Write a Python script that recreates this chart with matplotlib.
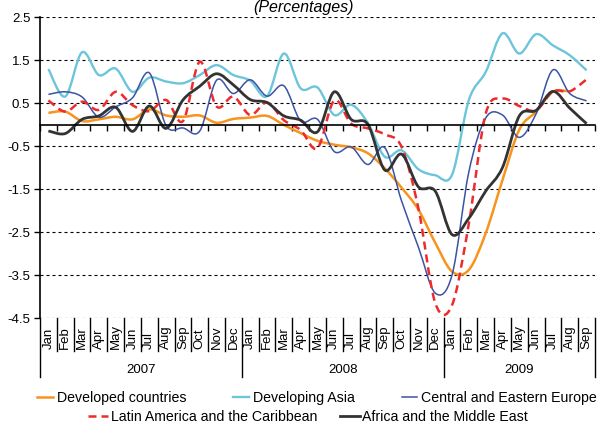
import matplotlib
matplotlib.use("Agg")
import matplotlib.pyplot as plt
from matplotlib.path import Path
from matplotlib.patches import PathPatch
from matplotlib.lines import Line2D

plt.rcParams["font.family"] = ["Liberation Sans", "DejaVu Sans"]
plt.rcParams["axes.unicode_minus"] = False

months = ["Jan", "Feb", "Mar", "Apr", "May", "Jun", "Jul", "Aug", "Sep", "Oct", "Nov", "Dec",
          "Jan", "Feb", "Mar", "Apr", "May", "Jun", "Jul", "Aug", "Sep", "Oct", "Nov", "Dec",
          "Jan", "Feb", "Mar", "Apr", "May", "Jun", "Jul", "Aug", "Sep"]
years = ["2007", "2008", "2009"]
year_start = [0, 12, 24, 33]

developed = [0.27, 0.30, 0.08, 0.12, 0.18, 0.12, 0.35, 0.21, 0.18, 0.21, 0.04, 0.13,
             0.16, 0.20, -0.01, -0.20, -0.38, -0.47, -0.53, -0.67, -1.02, -1.47, -1.98, -2.75,
             -3.42, -3.38, -2.53, -1.29, -0.12, 0.30, 0.76, 0.77]
asia = [1.29, 0.65, 1.68, 1.15, 1.30, 0.76, 1.09, 1.00, 0.96, 1.15, 1.38, 1.15,
        1.02, 0.66, 1.65, 0.84, 0.86, 0.22, 0.46, 0.03, -0.75, -0.60, -1.04, -1.18,
        -1.17, 0.57, 1.22, 2.12, 1.65, 2.10, 1.84, 1.61, 1.26]
europe = [0.70, 0.76, 0.64, 0.17, 0.41, 0.62, 1.20, -0.03, -0.08, -0.15, 1.03, 0.72,
          1.04, 0.66, 0.90, 0.08, 0.12, -0.63, -0.52, -0.93, -0.54, -1.78, -2.85, -3.92,
          -3.50, -1.10, 0.15, 0.22, -0.30, 0.25, 1.27, 0.72, 0.55]
latam = [0.56, 0.30, 0.53, 0.34, 0.76, 0.45, 0.31, 0.57, 0.08, 1.46, 0.42, 0.65,
         0.22, 0.51, 0.10, -0.13, -0.55, 0.56, 0.02, -0.09, -0.23, -0.52, -1.95, -4.15,
         -4.20, -2.30, 0.25, 0.60, 0.43, 0.33, 0.77, 0.77, 1.05]
africa = [-0.15, -0.21, 0.12, 0.20, 0.40, -0.16, 0.43, -0.09, 0.57, 0.89, 1.18, 0.92,
          0.58, 0.51, 0.20, 0.10, -0.17, 0.76, 0.12, 0.00, -1.06, -0.69, -1.45, -1.55,
          -2.56, -2.18, -1.55, -1.00, 0.20, 0.33, 0.77, 0.38, 0.02]

yticks = [2.5, 1.5, 0.5, -0.5, -1.5, -2.5, -3.5, -4.5]
ytick_labels = ["2.5", "1.5", "0.5", "-0.5", "-1.5", "-2.5", "-3.5", "-4.5"]

series = [
    ("Developed countries", developed, "#F7941D", 1.8, "-"),
    ("Developing Asia", asia, "#6CC5DA", 1.7, "-"),
    ("Central and Eastern Europe", europe, "#3A53A4", 1.1, "-"),
    ("Latin America and the Caribbean", latam, "#EE2A2F", 1.8, (0, (3.2, 2))),
    ("Africa and the Middle East", africa, "#333333", 2.0, "-"),
]


def smooth_path(values):
    # Excel-style smoothed line: cubic bezier through the monthly points
    xs = [i + 0.5 for i in range(len(values))]
    n = len(values)
    verts = [(xs[0], values[0])]
    codes = [Path.MOVETO]
    for i in range(n - 1):
        a = max(i - 1, 0)
        b = min(i + 2, n - 1)
        c1 = (xs[i] + (xs[i + 1] - xs[a]) / 6, values[i] + (values[i + 1] - values[a]) / 6)
        c2 = (xs[i + 1] - (xs[b] - xs[i]) / 6, values[i + 1] - (values[b] - values[i]) / 6)
        verts += [c1, c2, (xs[i + 1], values[i + 1])]
        codes += [Path.CURVE4] * 3
    return Path(verts, codes)


fig = plt.figure(figsize=(6, 4.23), dpi=100)
ax = fig.add_axes([40 / 600, 1 - 318 / 423, 555 / 600, 301 / 423])

handles = []
for name, vals, color, lw, ls in series:
    ax.add_patch(PathPatch(smooth_path(vals), fill=False, edgecolor=color, lw=lw,
                           linestyle=ls, capstyle="butt", joinstyle="round"))
    handles.append(Line2D([], [], color=color, lw=lw, linestyle=ls))

ax.set_xlim(0, len(months))
ax.set_ylim(-4.5, 2.5)
ax.set_yticks(yticks)
ax.set_yticklabels(ytick_labels, fontsize=9.5)
ax.yaxis.grid(True, color="black", lw=0.8, linestyle=(0, (2.7, 2.7)))
ax.set_axisbelow(True)

for side in ["top", "right"]:
    ax.spines[side].set_visible(False)
ax.spines["bottom"].set_position(("data", 0))
ax.spines["bottom"].set_linewidth(1.2)
ax.spines["left"].set_linewidth(1.2)
ax.set_xticks(range(len(months) + 1))
ax.tick_params(axis="x", direction="out", length=4, width=1, labelbottom=False)
ax.tick_params(axis="y", direction="out", length=4, width=1, pad=3)

trans = ax.get_xaxis_transform()
for i, m in enumerate(months):
    ax.text(i + 0.5, -0.103, m, rotation=90, ha="center", va="bottom",
            fontsize=9.5, transform=trans)
for i in range(len(months) + 1):
    bottom = -0.196 if i in year_start else -0.11
    ax.plot([i, i], [0, bottom], color="black", lw=1, transform=trans, clip_on=False)
for k, yr in enumerate(years):
    mid = (year_start[k] + year_start[k + 1]) / 2
    ax.text(mid, -0.173, yr, ha="center", va="center", fontsize=9.5, transform=trans)

fig.text(304 / 600, 1 - 12 / 423, "(Percentages)", ha="center", va="baseline",
         style="italic", fontsize=11.5)

names = [s[0] for s in series]
fig.legend(handles[:3], names[:3], loc="center left", bbox_to_anchor=(37 / 600, 1 - 398 / 423),
           ncol=3, frameon=False, fontsize=10.2, handlelength=1.1, handletextpad=0.3,
           columnspacing=3.3, borderpad=0, borderaxespad=0)
fig.legend(handles[3:], names[3:], loc="center left", bbox_to_anchor=(88 / 600, 1 - 417 / 423),
           ncol=2, frameon=False, fontsize=10.2, handlelength=1.4, handletextpad=0.2,
           columnspacing=1.6, borderpad=0, borderaxespad=0)

fig.savefig("out.png", dpi=100)
